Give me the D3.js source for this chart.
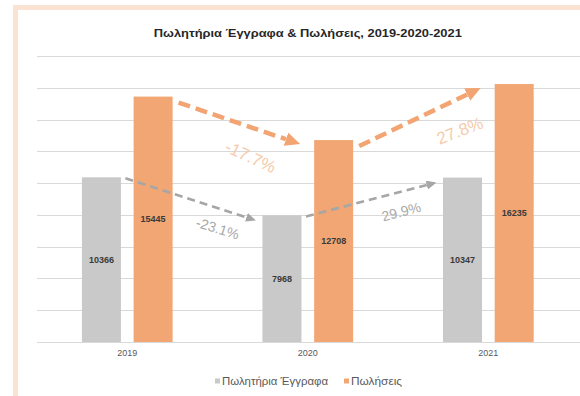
<!DOCTYPE html>
<html>
<head>
<meta charset="utf-8">
<script src="https://cdn.jsdelivr.net/npm/d3@7"></script>
<style>
  html, body { margin: 0; padding: 0; background: #ffffff; }
  svg { display: block; font-family: "Liberation Sans", Arial, sans-serif; }
</style>
</head>
<body>
<svg id="chart" width="580" height="396"></svg>
<script>
// ---- data ----
const years = ["2019", "2020", "2021"];
const seriesNames = ["Πωλητήρια Έγγραφα", "Πωλήσεις"];
const documents = [10366, 7968, 10347];   // Πωλητήρια Έγγραφα
const sales = [15445, 12708, 16235];      // Πωλήσεις
const yTicks = [0, 2000, 4000, 6000, 8000, 10000, 12000, 14000, 16000, 18000];
const chartTitle = "Πωλητήρια Έγγραφα & Πωλήσεις, 2019-2020-2021";

const seriesValues = [documents, sales];
const barColors = ["#c9c9c9", "#f1a674"];

const svg = d3.select("#chart");

// ---- frame ----
svg.append("rect")
  .attr("x", 15.5).attr("y", 7.5)
  .attr("width", 620).attr("height", 420)
  .attr("fill", "#ffffff")
  .attr("stroke", "#fbe3d3")
  .attr("stroke-width", 5);

// ---- scales ----
const plotLeft = 37, plotRight = 578.6, baseY = 342, topY = 56;
const x0 = d3.scaleBand().domain(years).range([plotLeft, plotRight]).padding(0);
const groupW = 90.7;
const x1 = d3.scaleBand().domain(seriesNames)
  .range([(x0.bandwidth() - groupW) / 2, (x0.bandwidth() + groupW) / 2])
  .paddingInner(0.2456).paddingOuter(0);
const y = d3.scaleLinear().domain([0, 18000]).range([baseY, topY]);

// ---- gridlines ----
svg.append("g").selectAll("line").data(yTicks).join("line")
  .attr("x1", plotLeft).attr("x2", 580)
  .attr("y1", d => Math.round(y(d)) + 0.5)
  .attr("y2", d => Math.round(y(d)) + 0.5)
  .attr("stroke", "#d9d9d9").attr("stroke-width", 1);

// ---- title ----
svg.append("text")
  .attr("x", (plotLeft + plotRight) / 2).attr("y", 33)
  .attr("text-anchor", "middle").attr("dominant-baseline", "central")
  .attr("font-size", 11).attr("font-weight", "bold").attr("fill", "#262626")
  .attr("textLength", 308).attr("lengthAdjust", "spacingAndGlyphs")
  .text(chartTitle);

// ---- bars ----
const groups = svg.append("g").selectAll("g").data(years).join("g")
  .attr("transform", d => `translate(${x0(d)},0)`);

groups.each(function (yr, i) {
  const g = d3.select(this);
  seriesNames.forEach((s, k) => {
    const v = seriesValues[k][i];
    g.append("rect")
      .attr("x", x1(s)).attr("width", x1.bandwidth())
      .attr("y", y(v)).attr("height", y(0) - y(v))
      .attr("fill", barColors[k]);
    g.append("text")
      .attr("x", x1(s) + x1.bandwidth() / 2)
      .attr("y", (y(v) + y(0)) / 2)
      .attr("text-anchor", "middle").attr("dominant-baseline", "central")
      .attr("font-size", 9).attr("font-weight", "bold").attr("fill", "#3a3a3a")
      .text(v);
  });
});

// ---- x axis ----
const xAxis = svg.append("g")
  .attr("transform", `translate(0,${baseY})`)
  .call(d3.axisBottom(x0).tickSize(0).tickPadding(8));
xAxis.select(".domain").remove();
xAxis.selectAll("text")
  .attr("font-size", 9).attr("fill", "#595959")
  .attr("font-family", "Liberation Sans, Arial, sans-serif");

// ---- change arrows ----
const pct = d3.formatLocale({ decimal: ".", thousands: ",", grouping: [3], currency: ["", ""], minus: "-" }).format(".1%");
const defs = svg.append("defs");

function arrowHead(id, color, len, half) {
  defs.append("marker")
    .attr("id", id).attr("markerUnits", "userSpaceOnUse")
    .attr("viewBox", `0 ${-half} ${len} ${half * 2}`)
    .attr("refX", 0).attr("refY", 0)
    .attr("markerWidth", len).attr("markerHeight", half * 2)
    .attr("orient", "auto")
    .append("path").attr("d", `M0,${-half}L${len},0L0,${half}Z`).attr("fill", color);
}

const arrowStyles = [
  // documents series (grey)
  { color: "#a6a6a6", labelColor: "#a9a9a9", width: 2.6, dash: "8,5", len: 10, half: 4.5,
    start: [4.5, 1], end: [-6.5, 5], fontSize: 14,
    labels: [{ dx: 27, dy: 29, rot: 17 }, { dx: 30, dy: 12, rot: -15 }] },
  // sales series (orange)
  { color: "#f2a472", labelColor: "#f6cbab", width: 4.5, dash: "12,6", len: 15, half: 7,
    start: [6, 6], end: [-14, 4], fontSize: 17,
    labels: [{ dx: 11, dy: 34, rot: 25 }, { dx: 40, dy: 14, rot: -21 }] }
];

arrowStyles.forEach((st, k) => {
  const id = "head" + k;
  arrowHead(id, st.color, st.len, st.half);
  const vals = seriesValues[k];
  const s = seriesNames[k];
  for (let i = 0; i < years.length - 1; i++) {
    const xa = x0(years[i]) + x1(s) + x1.bandwidth() + st.start[0];
    const ya = y(vals[i]) + st.start[1];
    const xb = x0(years[i + 1]) + x1(s) + st.end[0];
    const yb = y(vals[i + 1]) + st.end[1];
    const L = Math.hypot(xb - xa, yb - ya);
    const ux = (xb - xa) / L, uy = (yb - ya) / L;
    svg.append("line")
      .attr("x1", xa).attr("y1", ya)
      .attr("x2", xb - ux * st.len).attr("y2", yb - uy * st.len)
      .attr("stroke", st.color).attr("stroke-width", st.width)
      .attr("stroke-dasharray", st.dash)
      .attr("marker-end", `url(#${id})`);
    const lb = st.labels[i];
    const mx = (xa + xb) / 2 + lb.dx, my = (ya + yb) / 2 + lb.dy;
    svg.append("text")
      .attr("transform", `translate(${mx},${my}) rotate(${lb.rot})`)
      .attr("text-anchor", "middle").attr("dominant-baseline", "central")
      .attr("font-size", st.fontSize).attr("fill", st.labelColor)
      .text(pct((vals[i + 1] - vals[i]) / vals[i]));
  }
});

// ---- legend ----
const legend = svg.append("g").attr("transform", "translate(0,381)");
const legendItems = [{ x: 215, w: 106 }, { x: 344, w: 51 }];
seriesNames.forEach((s, k) => {
  const item = legend.append("g").attr("transform", `translate(${legendItems[k].x},0)`);
  item.append("rect").attr("x", 0).attr("y", -2.5).attr("width", 5).attr("height", 5).attr("fill", barColors[k]);
  item.append("text").attr("x", 7).attr("y", 0)
    .attr("dominant-baseline", "central")
    .attr("font-size", 10).attr("fill", "#595959")
    .attr("textLength", legendItems[k].w).attr("lengthAdjust", "spacingAndGlyphs")
    .text(s);
});
</script>
</body>
</html>
